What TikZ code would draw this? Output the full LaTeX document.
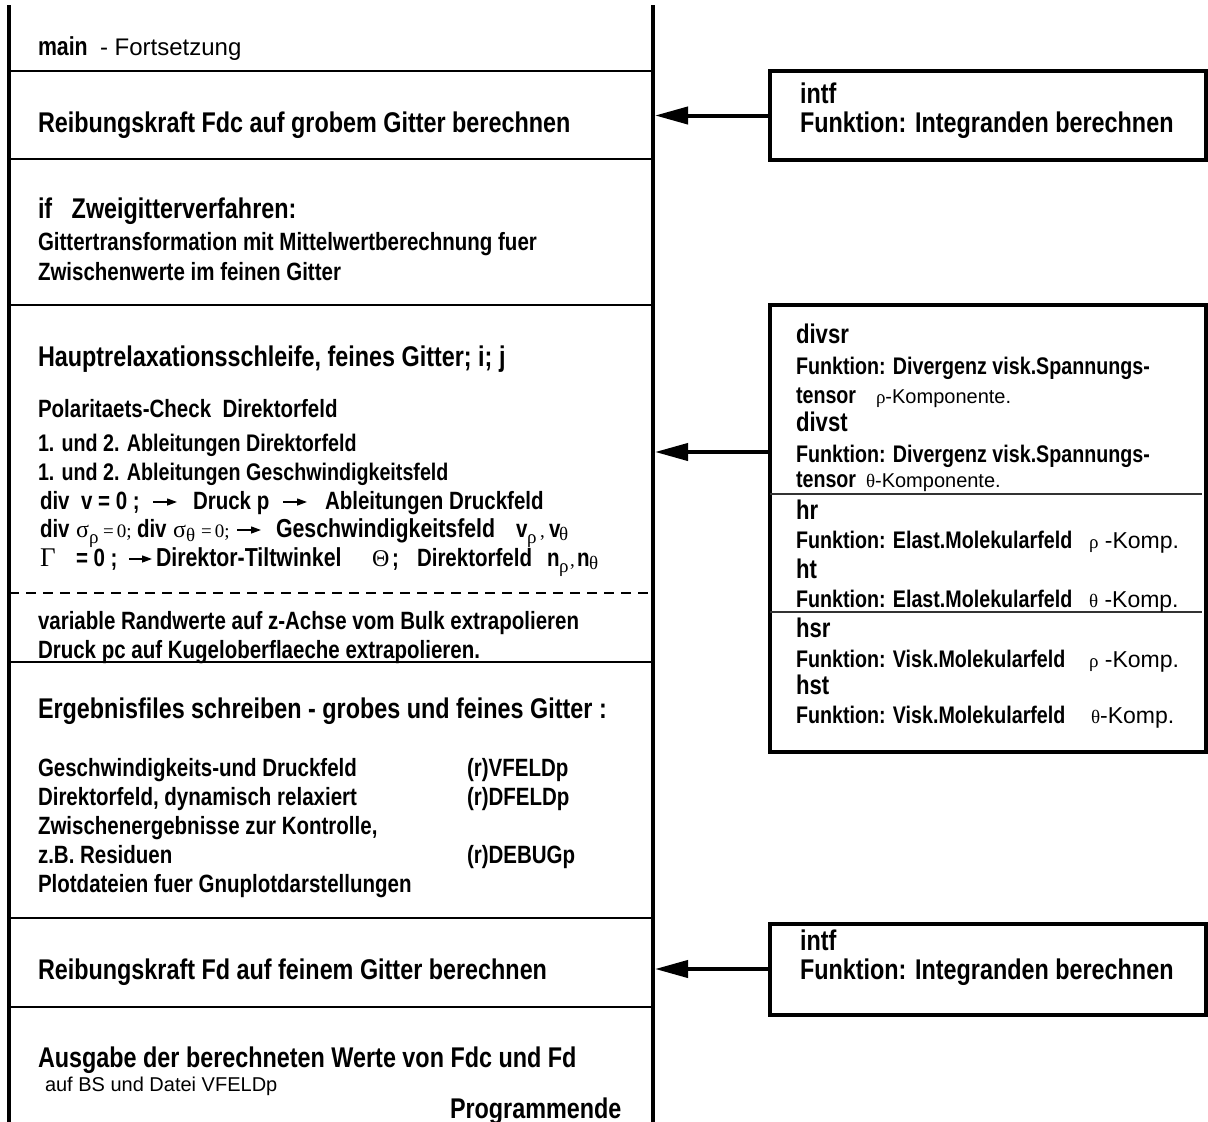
\documentclass[tikz,border=0pt]{standalone}
\usepackage{fontspec}
\setmainfont{Liberation Sans}[FakeStretch=0.82]
\newfontfamily\grfont{Liberation Serif}
\newfontfamily\nfont{Liberation Sans}
\usetikzlibrary{arrows.meta}
\newcommand\hdb{\fontsize{28.5}{30}\selectfont\bfseries}
\newcommand\mnb{\fontsize{26}{28}\selectfont\bfseries}
\newcommand\fmb{\fontsize{26}{28}\selectfont\bfseries}
\newcommand\fmc{\fontsize{25}{26}\selectfont\bfseries}
\newcommand\smb{\fontsize{25}{26}\selectfont\bfseries}
\newcommand\smc{\fontsize{24}{25}\selectfont\bfseries}
\newcommand\bxb{\fontsize{27}{28}\selectfont\bfseries}
\newcommand\sbx{\fontsize{24}{25}\selectfont\bfseries}
\newcommand\nreg[1]{\nfont\mdseries\fontsize{#1}{#1}\selectfont}
\newcommand\grL{\grfont\mdseries\fontsize{27}{27}\selectfont}
\newcommand\grM{\grfont\mdseries\fontsize{24}{24}\selectfont}
\newcommand\grs{\grfont\mdseries\fontsize{19}{19}\selectfont}
\begin{document}
\begin{tikzpicture}[x=1pt,y=-1pt,
  txt/.style={anchor=base west,inner sep=0pt,outer sep=0pt},
  sep/.style={line width=1.3pt},
  col/.style={line width=3.5pt},
  fbox/.style={draw,line width=4pt,inner sep=0pt,minimum width=436pt},
  link/.style={line width=4pt,-{Triangle[length=33pt,width=17pt]}},
  inarr/.style={line width=1.3pt,-{Triangle[length=10pt,width=7pt]}}]
\useasboundingbox (0,0) rectangle (1208,1122);
% main column
\draw[col] (9,5) -- (9,1122);
\draw[col] (653,5) -- (653,1122);
\foreach \yy in {71,159,305,662,918,1007} \draw[sep] (9,\yy) -- (653,\yy);
\draw[sep,dash pattern=on 10pt off 7pt] (9,593) -- (653,593);
% right boxes
\node[fbox,minimum height=89pt] (b1) at (988,115.5) {};
\node[fbox,minimum height=447pt] (b2) at (988,528.5) {};
\node[fbox,minimum height=91pt] (b3) at (988,969) {};
\draw[sep,black!80] (770,494) -- (1202,494);
\draw[sep,black!80] (770,612) -- (1202,612);
% connectors
\coordinate (a1) at (655,115.5);
\coordinate (a2) at (655,452);
\coordinate (a3) at (655,969);
\draw[link] (b1.west) -- (a1);
\draw[link] (b2.west |- a2) -- (a2);
\draw[link] (b3.west) -- (a3);
% left texts
\node[txt] (t0) at (38,55) {\mnb main};
\node[txt] (t0b) at (100,55) {\nreg{24}- Fortsetzung};
\node[txt] (t1) at (38,132) {\hdb Reibungskraft Fdc auf grobem Gitter berechnen};
\node[txt] (t2) at (38,218) {\hdb if\ \ \ Zweigitterverfahren:};
\node[txt] (t3) at (38,250) {\smb Gittertransformation mit Mittelwertberechnung fuer};
\node[txt] (t4) at (38,280) {\smb Zwischenwerte im feinen Gitter};
\node[txt] (t5) at (38,366) {\hdb Hauptrelaxationsschleife, feines Gitter; i; j};
\node[txt] (t6) at (38,417) {\smb Polaritaets-Check\ \ Direktorfeld};
\node[txt] (t7) at (38,451) {\smc 1. und 2. Ableitungen Direktorfeld};
\node[txt] (t8) at (38,480) {\smc 1. und 2. Ableitungen Geschwindigkeitsfeld};
% row: div v = 0
\node[txt] (p1) at (40,509) {\fmc div\ \ v = 0 ;};
\coordinate (p1a) at (153,502); \coordinate (p1b) at (177,502);
\draw[inarr] (p1a) -- (p1b);
\node[txt] (p2) at (193,509) {\fmc Druck p};
\coordinate (p2a) at (283,502); \coordinate (p2b) at (307,502);
\draw[inarr] (p2a) -- (p2b);
\node[txt] (p3) at (325,509) {\fmc Ableitungen Druckfeld};
% row: div sigma
\node[txt] (q1) at (40,537) {\fmc div};
\node[txt] (q2) at (76,537) {\grM σ};
\node[txt] (q3) at (89,543) {\grs ρ};
\node[txt] (q4) at (103,537) {\grs =\,0;};
\node[txt] (q5) at (137,537) {\fmc div};
\node[txt] (q6) at (173,537) {\grM σ};
\node[txt] (q7) at (186,541) {\grs θ};
\node[txt] (q8) at (201,537) {\grs =\,0;};
\coordinate (q9a) at (237,530); \coordinate (q9b) at (261,530);
\draw[inarr] (q9a) -- (q9b);
\node[txt] (q10) at (276,537) {\fmb Geschwindigkeitsfeld};
\node[txt] (q11) at (516,537) {\fmc v};
\node[txt] (q12) at (527,543) {\grs ρ};
\node[txt] (q13) at (540,537) {\grs ,};
\node[txt] (q14) at (549,537) {\fmc v};
\node[txt] (q15) at (559,540) {\grs θ};
% row: Gamma
\node[txt] (g1) at (40,566) {\grL Γ};
\node[txt] (g2) at (76,566) {\fmc = 0 ;};
\coordinate (g3a) at (129,559); \coordinate (g3b) at (152,559);
\draw[inarr] (g3a) -- (g3b);
\node[txt] (g4) at (156,566) {\fmb Direktor-Tiltwinkel};
\node[txt] (g5) at (372,566) {\grM Θ};
\node[txt] (g6) at (392,566) {\fmc ;};
\node[txt] (g7) at (417,566) {\fmc Direktorfeld};
\node[txt] (g8) at (547,566) {\fmc n};
\node[txt] (g9) at (559,572) {\grs ρ};
\node[txt] (g10) at (570,566) {\grs ,};
\node[txt] (g11) at (577,566) {\fmc n};
\node[txt] (g12) at (589,569) {\grs θ};
\node[txt] (t12) at (38,629) {\smb variable Randwerte auf z-Achse vom Bulk extrapolieren};
\node[txt] (t13) at (38,658) {\smb Druck pc auf Kugeloberflaeche extrapolieren.};
\node[txt] (t14) at (38,718) {\hdb Ergebnisfiles schreiben - grobes und feines Gitter :};
\node[txt] (t15) at (38,776) {\smb Geschwindigkeits-und Druckfeld};
\node[txt] (t16) at (38,805) {\smb Direktorfeld, dynamisch relaxiert};
\node[txt] (t17) at (38,834) {\smb Zwischenergebnisse zur Kontrolle,};
\node[txt] (t18) at (38,863) {\smb z.B. Residuen};
\node[txt] (t19) at (38,892) {\smb Plotdateien fuer Gnuplotdarstellungen};
\node[txt] (f1) at (467,776) {\smb (r)VFELDp};
\node[txt] (f2) at (467,805) {\smb (r)DFELDp};
\node[txt] (f3) at (467,863) {\smb (r)DEBUGp};
\node[txt] (t20) at (38,979) {\hdb Reibungskraft Fd auf feinem Gitter berechnen};
\node[txt] (t21) at (38,1067) {\hdb Ausgabe der berechneten Werte von Fdc und Fd};
\node[txt] (t22) at (45,1091) {\nreg{20}auf BS und Datei VFELDp};
\node[txt] (t23) at (450,1118) {\hdb Programmende};
% box 1
\node[txt] (r1) at (800,103) {\hdb intf};
\node[txt] (r2) at (800,132) {\hdb Funktion: Integranden berechnen};
% box 2
\node[txt] (s1) at (796,343) {\bxb divsr};
\node[txt] (s2) at (796,374) {\sbx Funktion: Divergenz visk.Spannungs-};
\node[txt] (s3) at (796,403) {\sbx tensor};
\node[txt] (s3b) at (876,403) {{\grs ρ}\nreg{20}-Komponente.};
\node[txt] (s4) at (796,431) {\bxb divst};
\node[txt] (s5) at (796,462) {\sbx Funktion: Divergenz visk.Spannungs-};
\node[txt] (s6) at (796,487) {\sbx tensor};
\node[txt] (s6b) at (866,487) {{\grs θ}\nreg{20}-Komponente.};
\node[txt] (s7) at (796,519) {\bxb hr};
\node[txt] (s8) at (796,548) {\sbx Funktion: Elast.Molekularfeld};
\node[txt] (k1) at (1089,548) {{\grs ρ}\nreg{23}\ -Komp.};
\node[txt] (s9) at (796,578) {\bxb ht};
\node[txt] (s10) at (796,607) {\sbx Funktion: Elast.Molekularfeld};
\node[txt] (k2) at (1089,607) {{\grs θ}\nreg{23}\ -Komp.};
\node[txt] (s11) at (796,637) {\bxb hsr};
\node[txt] (s12) at (796,667) {\sbx Funktion: Visk.Molekularfeld};
\node[txt] (k3) at (1089,667) {{\grs ρ}\nreg{23}\ -Komp.};
\node[txt] (s13) at (796,694) {\bxb hst};
\node[txt] (s14) at (796,723) {\sbx Funktion: Visk.Molekularfeld};
\node[txt] (k4) at (1091,723) {{\grs θ}\nreg{23}-Komp.};
% box 3
\node[txt] (u1) at (800,950) {\hdb intf};
\node[txt] (u2) at (800,979) {\hdb Funktion: Integranden berechnen};
\end{tikzpicture}
\end{document}
